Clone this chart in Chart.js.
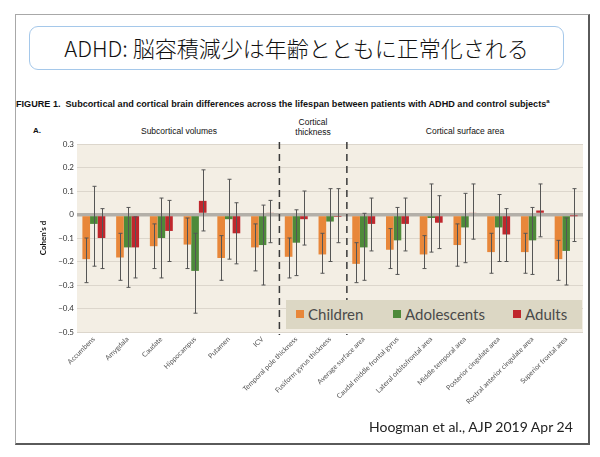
<!DOCTYPE html>
<html><head><meta charset="utf-8">
<script src="https://cdn.jsdelivr.net/npm/chart.js@4"></script>
<style>
html,body{margin:0;padding:0;background:#fff;width:600px;height:457px;overflow:hidden;font-family:Lato,"Noto Sans",sans-serif;}
#frame{position:absolute;left:15px;top:14px;width:572px;height:428px;border-left:1.5px solid #a8a8a8;border-top:1.5px solid #a8a8a8;border-right:2px solid #5a5a5a;border-bottom:2px solid #5a5a5a;}
#titlebox{position:absolute;left:29px;top:26px;width:535px;height:44px;border:1.5px solid #a5c8ea;border-radius:9px;box-sizing:border-box;text-align:center;font-family:"Noto Sans CJK JP",sans-serif;font-weight:300;font-size:22px;line-height:41px;color:#111;}
.t{position:absolute;white-space:nowrap;color:#111;}
#chartwrap{position:absolute;left:0;top:0;width:600px;height:457px;}
#legend{position:absolute;left:286px;top:300px;width:296px;height:29px;background:#dcd7c4;}
.li{position:absolute;top:0;height:29px;line-height:29px;font-size:15px;color:#4a4a4a;font-family:Lato,sans-serif;}
.sq{position:absolute;width:8px;height:8px;top:10px;}
</style></head>
<body>
<div id="frame"></div>
<div id="titlebox">ADHD: 脳容積減少は年齢とともに正常化される</div>
<div class="t" style="left:16px;top:98px;font-size:9.1px;font-weight:bold;font-family:'Liberation Sans',sans-serif;">FIGURE 1.&nbsp; Subcortical and cortical brain differences across the lifespan between patients with ADHD and control subjects<sup style="font-size:6px">a</sup></div>
<div class="t" style="left:33px;top:126px;font-size:8px;font-weight:bold;font-family:'Liberation Sans',sans-serif;">A.</div>
<div class="t" style="left:179px;top:126px;transform:translateX(-50%);font-size:8.5px;font-family:'Liberation Sans',sans-serif;">Subcortical volumes</div>
<div class="t" style="left:313px;top:117px;transform:translateX(-50%);font-size:8.5px;text-align:center;line-height:10px;font-family:'Liberation Sans',sans-serif;">Cortical<br>thickness</div>
<div class="t" style="left:465px;top:126px;transform:translateX(-50%);font-size:8.5px;font-family:'Liberation Sans',sans-serif;">Cortical surface area</div>
<div id="chartwrap"><canvas id="c" width="600" height="457"></canvas></div>
<div id="legend">
  <div class="sq" style="left:10px;background:#e8873a"></div><div class="li" style="left:22px">Children</div>
  <div class="sq" style="left:107px;background:#4e8a3a"></div><div class="li" style="left:119px">Adolescents</div>
  <div class="sq" style="left:227px;background:#c0272d"></div><div class="li" style="left:239px">Adults</div>
</div>
<div class="t" style="left:369px;top:418px;font-size:14px;color:#222;font-family:Lato,sans-serif;">Hoogman et al., AJP 2019 Apr 24</div>
<script>
const categories = ["Accumbens","Amygdala","Caudate","Hippocampus","Putamen","ICV","Temporal pole thickness","Fusiform gyrus thickness","Average surface area","Caudal middle frontal gyrus","Lateral orbitofrontal area","Middle temporal area","Posterior cingulate area","Rostral anterior cingulate area","Superior frontal area"];
const seriesNames = ["Children","Adolescents","Adults"];
const children    = [-0.19,-0.183,-0.135,-0.128,-0.185,-0.14,-0.18,-0.17,-0.21,-0.15,-0.17,-0.13,-0.16,-0.16,-0.19];
const adolescents = [-0.04,-0.14,-0.10,-0.24,-0.02,-0.13,-0.12,-0.03,-0.14,-0.11,-0.015,-0.055,-0.055,-0.11,-0.155];
const adults      = [-0.10,-0.14,-0.07,0.058,-0.08,0.008,-0.02,-0.01,-0.04,-0.04,-0.035,0.008,-0.085,0.017,-0.004];
const childrenLow    = [-0.29,-0.28,-0.23,-0.23,-0.28,-0.24,-0.27,-0.25,-0.29,-0.23,-0.23,-0.22,-0.25,-0.25,-0.28];
const childrenHigh   = [-0.10,-0.08,-0.04,-0.015,-0.09,-0.04,-0.10,-0.08,-0.12,-0.06,-0.09,-0.04,-0.08,-0.08,-0.11];
const adolescentsLow = [-0.22,-0.31,-0.27,-0.42,-0.19,-0.30,-0.26,-0.20,-0.28,-0.255,-0.16,-0.205,-0.20,-0.255,-0.30];
const adolescentsHigh= [0.12,0.03,0.07,-0.08,0.15,0.04,0.02,0.11,0.005,0.03,0.13,0.09,0.085,0.03,-0.015];
const adultsLow      = [-0.23,-0.27,-0.20,-0.07,-0.21,-0.12,-0.13,-0.12,-0.155,-0.155,-0.145,-0.105,-0.20,-0.095,-0.115];
const adultsHigh     = [0.025,-0.01,0.06,0.19,0.05,0.06,0.10,0.11,0.07,0.07,0.08,0.13,0.025,0.13,0.11];
const yTicks = [0.3,0.2,0.1,0,-0.1,-0.2,-0.3,-0.4,-0.5];
const sectionBreaks = [6,8];

const lows = [childrenLow, adolescentsLow, adultsLow];
const highs = [childrenHigh, adolescentsHigh, adultsHigh];
const fills = ["#e8873a","#4e8a3a","#c0272d"];

const bgPlugin = {
  id:'bg',
  beforeDraw(chart){
    const a = chart.chartArea, ctx = chart.ctx;
    ctx.save(); ctx.fillStyle = '#f3eee4';
    ctx.fillRect(a.left, a.top, a.right-a.left, a.bottom-a.top);
    ctx.restore();
  }
};
const errPlugin = {
  id:'err',
  afterDatasetsDraw(chart){
    const ctx = chart.ctx, ys = chart.scales.y, xs = chart.scales.x, a = chart.chartArea;
    ctx.save();
    chart.data.datasets.forEach((ds,i)=>{
      const meta = chart.getDatasetMeta(i);
      meta.data.forEach((el,j)=>{
        const x = Math.round(el.x)+0.5;
        const y1 = ys.getPixelForValue(lows[i][j]);
        const y2 = ys.getPixelForValue(highs[i][j]);
        ctx.strokeStyle = '#555'; ctx.lineWidth = 1;
        ctx.beginPath(); ctx.moveTo(x,y1); ctx.lineTo(x,y2);
        ctx.moveTo(x-2,y1); ctx.lineTo(x+2,y1);
        ctx.moveTo(x-2,y2); ctx.lineTo(x+2,y2); ctx.stroke();
      });
    });
    ctx.strokeStyle = '#3a3a3a'; ctx.lineWidth = 1.5; ctx.setLineDash([7,5]);
    sectionBreaks.forEach(b=>{
      const x = (xs.getPixelForValue(b-1)+xs.getPixelForValue(b))/2;
      ctx.beginPath(); ctx.moveTo(x, a.top-2); ctx.lineTo(x, a.bottom+3); ctx.stroke();
    });
    ctx.restore();
  }
};

new Chart(document.getElementById('c'), {
  type:'bar',
  data:{
    labels: categories,
    datasets:[
      {label:seriesNames[0], data:children, backgroundColor:fills[0], borderWidth:0},
      {label:seriesNames[1], data:adolescents, backgroundColor:fills[1], borderWidth:0},
      {label:seriesNames[2], data:adults, backgroundColor:fills[2], borderWidth:0}
    ]
  },
  options:{
    responsive:false, animation:false, devicePixelRatio:1,
    layout:{padding:{top:144,right:17,left:39,bottom:0}},
    datasets:{bar:{barPercentage:1, categoryPercentage:0.68}},
    plugins:{legend:{display:false}, tooltip:{enabled:false}},
    scales:{
      x:{
        grid:{display:false, drawTicks:false}, border:{display:false},
        ticks:{autoSkip:false, minRotation:45, maxRotation:45, padding:3, color:'#555', font:{family:'Lato', size:7}},
        afterFit(s){ s.height = 125; }
      },
      y:{
        min:-0.5, max:0.3,
        afterBuildTicks(s){ s.ticks = yTicks.map(v=>({value:v})); },
        afterFit(s){ s.width = 38; },
        grid:{drawTicks:false, color:(c)=> c.tick && c.tick.value===0 ? '#b3afa8' : '#dcd6cc', lineWidth:(c)=> c.tick && c.tick.value===0 ? 3.5 : 1},
        border:{display:false},
        ticks:{padding:3, color:'#333', font:{family:'Lato', size:8}, callback:(v)=> v===0 ? '0' : (v<0 ? '\u2212'+Math.abs(v).toFixed(1) : v.toFixed(1))},
        title:{display:true, text:"Cohen's d", color:'#111', font:{family:'Lato', size:8, weight:'bold'}, padding:{top:0,bottom:4}}
      }
    }
  },
  plugins:[bgPlugin, errPlugin]
});
</script>
</body></html>
